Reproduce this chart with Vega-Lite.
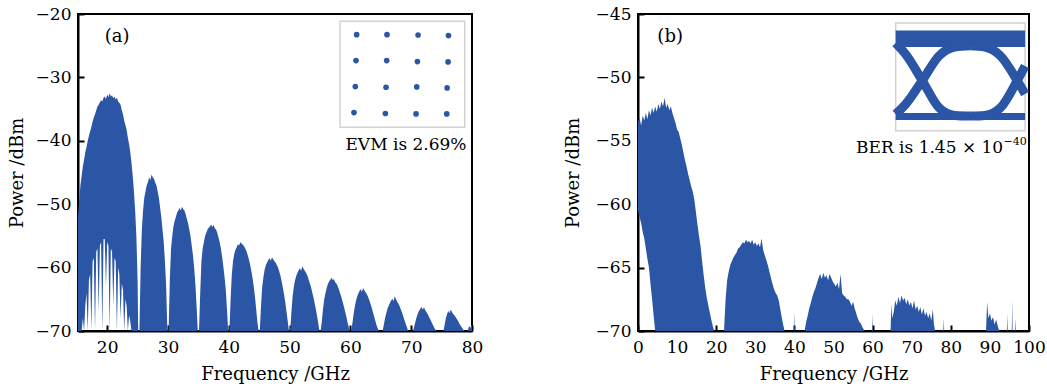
{
  "$schema": "https://vega.github.io/schema/vega-lite/v6.json",
  "background": "white",
  "padding": {"left": 7, "top": 4, "right": 0, "bottom": 0},
  "spacing": 79,
  "config": {
    "font": "DejaVu Serif",
    "view": {"stroke": "black", "strokeWidth": 2},
    "axis": {
      "grid": false,
      "domainColor": "black",
      "domainWidth": 2,
      "tickColor": "black",
      "tickWidth": 2,
      "tickSize": -6,
      "labelFont": "DejaVu Serif",
      "labelFontSize": 17,
      "labelColor": "black",
      "labelFlush": false,
      "labelBound": false,
      "titleFont": "DejaVu Serif",
      "titleFontSize": 18,
      "titleFontWeight": "normal",
      "titleColor": "black"
    },
    "axisX": {"labelPadding": 14, "titlePadding": 10},
    "axisY": {"labelPadding": 13, "titlePadding": 9}
  },
  "datasets": {
    "specA": [
      {"f":15.2,"p":-52,"p2":-70},{"f":15.4,"p":-49.5,"p2":-70},{"f":15.6,"p":-47,"p2":-70},{"f":15.8,"p":-45.5,"p2":-70},
      {"f":16.0,"p":-44,"p2":-68},{"f":16.2,"p":-43,"p2":-70},{"f":16.4,"p":-41.8,"p2":-66},{"f":16.6,"p":-41,"p2":-64},
      {"f":16.8,"p":-40,"p2":-70},{"f":17.0,"p":-39.2,"p2":-62},{"f":17.2,"p":-38.5,"p2":-61},{"f":17.4,"p":-37.8,"p2":-70},
      {"f":17.6,"p":-37,"p2":-59},{"f":17.8,"p":-36.3,"p2":-58.5},{"f":18.0,"p":-35.8,"p2":-70},{"f":18.2,"p":-35.2,"p2":-57.5},
      {"f":18.4,"p":-34.6,"p2":-57},{"f":18.6,"p":-34.3,"p2":-67},{"f":18.8,"p":-33.9,"p2":-56.5},{"f":19.0,"p":-33.6,"p2":-56},
      {"f":19.2,"p":-33.8,"p2":-70},{"f":19.4,"p":-33.2,"p2":-55.5},{"f":19.6,"p":-33.0,"p2":-55.5},{"f":19.8,"p":-33.4,"p2":-63},
      {"f":20.0,"p":-32.7,"p2":-56},{"f":20.2,"p":-33.1,"p2":-56.5},{"f":20.4,"p":-32.5,"p2":-70},{"f":20.6,"p":-33.0,"p2":-57},
      {"f":20.8,"p":-32.8,"p2":-57.5},{"f":21.0,"p":-33.3,"p2":-66},{"f":21.2,"p":-33.0,"p2":-58.5},{"f":21.4,"p":-33.5,"p2":-59},
      {"f":21.6,"p":-33.2,"p2":-70},{"f":21.8,"p":-33.8,"p2":-60},{"f":22.0,"p":-34.0,"p2":-61},{"f":22.2,"p":-34.3,"p2":-68},
      {"f":22.4,"p":-35.2,"p2":-62.5},{"f":22.6,"p":-35.8,"p2":-63.5},{"f":22.8,"p":-36.8,"p2":-70},{"f":23.0,"p":-37.5,"p2":-65},
      {"f":23.2,"p":-38.3,"p2":-66},{"f":23.4,"p":-39.5,"p2":-70},{"f":23.6,"p":-40.5,"p2":-67.5},{"f":23.8,"p":-41.8,"p2":-68.5},
      {"f":24.0,"p":-43.5,"p2":-70},{"f":24.2,"p":-45.5,"p2":-70},{"f":24.4,"p":-48,"p2":-70},{"f":24.6,"p":-51,"p2":-70},
      {"f":24.8,"p":-55,"p2":-70},{"f":25.0,"p":-62,"p2":-70},{"f":25.1,"p":-70,"p2":-70},
      {"f":25.3,"p":-70,"p2":-70},{"f":25.5,"p":-60,"p2":-70},{"f":25.7,"p":-54,"p2":-70},{"f":25.9,"p":-51,"p2":-70},
      {"f":26.1,"p":-49,"p2":-70},{"f":26.3,"p":-48,"p2":-70},{"f":26.5,"p":-47,"p2":-70},{"f":26.7,"p":-46.5,"p2":-70},
      {"f":26.9,"p":-45.8,"p2":-70},{"f":27.1,"p":-46.2,"p2":-70},{"f":27.3,"p":-45.3,"p2":-70},{"f":27.5,"p":-45.8,"p2":-70},
      {"f":27.7,"p":-46,"p2":-70},{"f":27.9,"p":-46.6,"p2":-70},{"f":28.1,"p":-47,"p2":-70},{"f":28.3,"p":-48,"p2":-70},
      {"f":28.5,"p":-49,"p2":-70},{"f":28.7,"p":-50.5,"p2":-70},{"f":28.9,"p":-52,"p2":-70},{"f":29.1,"p":-54,"p2":-70},
      {"f":29.3,"p":-56,"p2":-70},{"f":29.5,"p":-59,"p2":-70},{"f":29.7,"p":-63,"p2":-70},{"f":29.9,"p":-70,"p2":-70},
      {"f":30.1,"p":-70,"p2":-70},{"f":30.3,"p":-62,"p2":-70},{"f":30.5,"p":-57,"p2":-70},{"f":30.7,"p":-55,"p2":-70},
      {"f":30.9,"p":-53.5,"p2":-70},{"f":31.1,"p":-52.6,"p2":-70},{"f":31.3,"p":-52,"p2":-70},{"f":31.5,"p":-51.3,"p2":-70},
      {"f":31.7,"p":-51,"p2":-70},{"f":31.9,"p":-50.6,"p2":-70},{"f":32.1,"p":-51,"p2":-70},{"f":32.3,"p":-50.4,"p2":-70},
      {"f":32.5,"p":-50.8,"p2":-70},{"f":32.7,"p":-51,"p2":-70},{"f":32.9,"p":-51.6,"p2":-70},{"f":33.1,"p":-52.3,"p2":-70},
      {"f":33.3,"p":-53,"p2":-70},{"f":33.5,"p":-54,"p2":-70},{"f":33.7,"p":-55,"p2":-70},{"f":33.9,"p":-56.5,"p2":-70},
      {"f":34.1,"p":-58,"p2":-70},{"f":34.3,"p":-60,"p2":-70},{"f":34.5,"p":-62.5,"p2":-70},{"f":34.7,"p":-66,"p2":-70},
      {"f":34.9,"p":-70,"p2":-70},
      {"f":35.1,"p":-70,"p2":-70},{"f":35.3,"p":-64,"p2":-70},{"f":35.5,"p":-59,"p2":-70},{"f":35.7,"p":-57,"p2":-70},
      {"f":35.9,"p":-56,"p2":-70},{"f":36.1,"p":-55,"p2":-70},{"f":36.3,"p":-54.5,"p2":-70},{"f":36.5,"p":-54,"p2":-70},
      {"f":36.7,"p":-53.7,"p2":-70},{"f":36.9,"p":-53.5,"p2":-70},{"f":37.1,"p":-53.2,"p2":-70},{"f":37.3,"p":-53.6,"p2":-70},
      {"f":37.5,"p":-53.3,"p2":-70},{"f":37.7,"p":-53.8,"p2":-70},{"f":37.9,"p":-54,"p2":-70},{"f":38.1,"p":-54.5,"p2":-70},
      {"f":38.3,"p":-55.2,"p2":-70},{"f":38.5,"p":-56,"p2":-70},{"f":38.7,"p":-57,"p2":-70},{"f":38.9,"p":-58.3,"p2":-70},
      {"f":39.1,"p":-59.8,"p2":-70},{"f":39.3,"p":-61.5,"p2":-70},{"f":39.5,"p":-63.5,"p2":-70},{"f":39.7,"p":-66.5,"p2":-70},
      {"f":39.9,"p":-70,"p2":-70},
      {"f":40.1,"p":-70,"p2":-70},{"f":40.3,"p":-65,"p2":-70},{"f":40.5,"p":-61,"p2":-70},{"f":40.7,"p":-59,"p2":-70},
      {"f":40.9,"p":-57.8,"p2":-70},{"f":41.1,"p":-57.2,"p2":-70},{"f":41.3,"p":-56.8,"p2":-70},{"f":41.5,"p":-56.3,"p2":-70},
      {"f":41.7,"p":-56.5,"p2":-70},{"f":41.9,"p":-56,"p2":-70},{"f":42.1,"p":-56.2,"p2":-70},{"f":42.3,"p":-56.4,"p2":-70},
      {"f":42.5,"p":-56.6,"p2":-70},{"f":42.7,"p":-57,"p2":-70},{"f":42.9,"p":-57.4,"p2":-70},{"f":43.1,"p":-58,"p2":-70},
      {"f":43.3,"p":-58.7,"p2":-70},{"f":43.5,"p":-59.5,"p2":-70},{"f":43.7,"p":-60.5,"p2":-70},{"f":43.9,"p":-61.6,"p2":-70},
      {"f":44.1,"p":-63,"p2":-70},{"f":44.3,"p":-64.5,"p2":-70},{"f":44.5,"p":-66.5,"p2":-70},{"f":44.7,"p":-68.5,"p2":-70},
      {"f":44.9,"p":-70,"p2":-70},
      {"f":45.1,"p":-70,"p2":-70},{"f":45.3,"p":-66,"p2":-70},{"f":45.5,"p":-63,"p2":-70},{"f":45.7,"p":-61.5,"p2":-70},
      {"f":45.9,"p":-60.3,"p2":-70},{"f":46.1,"p":-59.6,"p2":-70},{"f":46.3,"p":-59.2,"p2":-70},{"f":46.5,"p":-58.8,"p2":-70},
      {"f":46.7,"p":-58.5,"p2":-70},{"f":46.9,"p":-58.9,"p2":-70},{"f":47.1,"p":-58.4,"p2":-70},{"f":47.3,"p":-58.7,"p2":-70},
      {"f":47.5,"p":-59,"p2":-70},{"f":47.7,"p":-59.2,"p2":-70},{"f":47.9,"p":-59.6,"p2":-70},{"f":48.1,"p":-60,"p2":-70},
      {"f":48.3,"p":-60.6,"p2":-70},{"f":48.5,"p":-61.3,"p2":-70},{"f":48.7,"p":-62.2,"p2":-70},{"f":48.9,"p":-63.2,"p2":-70},
      {"f":49.1,"p":-64.3,"p2":-70},{"f":49.3,"p":-65.5,"p2":-70},{"f":49.5,"p":-67,"p2":-70},{"f":49.7,"p":-68.5,"p2":-70},
      {"f":49.9,"p":-70,"p2":-70},
      {"f":50.1,"p":-70,"p2":-70},{"f":50.3,"p":-67,"p2":-70},{"f":50.5,"p":-64.5,"p2":-70},{"f":50.7,"p":-63,"p2":-70},
      {"f":50.9,"p":-62,"p2":-70},{"f":51.1,"p":-61.3,"p2":-70},{"f":51.3,"p":-60.8,"p2":-70},{"f":51.5,"p":-60.4,"p2":-70},
      {"f":51.7,"p":-60.1,"p2":-70},{"f":51.9,"p":-60.5,"p2":-70},{"f":52.1,"p":-59.8,"p2":-70},{"f":52.3,"p":-60.2,"p2":-70},
      {"f":52.5,"p":-60.5,"p2":-70},{"f":52.7,"p":-60.8,"p2":-70},{"f":52.9,"p":-61.2,"p2":-70},{"f":53.1,"p":-61.8,"p2":-70},
      {"f":53.3,"p":-62.4,"p2":-70},{"f":53.5,"p":-63,"p2":-70},{"f":53.7,"p":-63.8,"p2":-70},{"f":53.9,"p":-64.6,"p2":-70},
      {"f":54.1,"p":-65.5,"p2":-70},{"f":54.3,"p":-66.5,"p2":-70},{"f":54.5,"p":-67.5,"p2":-70},{"f":54.7,"p":-68.7,"p2":-70},
      {"f":54.9,"p":-70,"p2":-70},
      {"f":55.1,"p":-70,"p2":-70},{"f":55.3,"p":-68.5,"p2":-70},{"f":55.5,"p":-66.5,"p2":-70},{"f":55.7,"p":-65,"p2":-70},
      {"f":55.9,"p":-64,"p2":-70},{"f":56.1,"p":-63.2,"p2":-70},{"f":56.3,"p":-62.6,"p2":-70},{"f":56.5,"p":-62.2,"p2":-70},
      {"f":56.7,"p":-61.9,"p2":-70},{"f":56.9,"p":-61.6,"p2":-70},{"f":57.1,"p":-62,"p2":-70},{"f":57.3,"p":-61.8,"p2":-70},
      {"f":57.5,"p":-62.3,"p2":-70},{"f":57.7,"p":-62.5,"p2":-70},{"f":57.9,"p":-62.9,"p2":-70},{"f":58.1,"p":-63.4,"p2":-70},
      {"f":58.3,"p":-64,"p2":-70},{"f":58.5,"p":-64.6,"p2":-70},{"f":58.7,"p":-65.3,"p2":-70},{"f":58.9,"p":-66,"p2":-70},
      {"f":59.1,"p":-66.8,"p2":-70},{"f":59.3,"p":-67.6,"p2":-70},{"f":59.5,"p":-68.5,"p2":-70},{"f":59.7,"p":-69.3,"p2":-70},
      {"f":59.9,"p":-70,"p2":-70},
      {"f":60.1,"p":-70,"p2":-70},{"f":60.3,"p":-69,"p2":-70},{"f":60.5,"p":-67.5,"p2":-70},{"f":60.7,"p":-66.3,"p2":-70},
      {"f":60.9,"p":-65.3,"p2":-70},{"f":61.1,"p":-64.6,"p2":-70},{"f":61.3,"p":-64.1,"p2":-70},{"f":61.5,"p":-63.7,"p2":-70},
      {"f":61.7,"p":-63.4,"p2":-70},{"f":61.9,"p":-63.8,"p2":-70},{"f":62.1,"p":-63.2,"p2":-70},{"f":62.3,"p":-63.6,"p2":-70},
      {"f":62.5,"p":-63.9,"p2":-70},{"f":62.7,"p":-64.2,"p2":-70},{"f":62.9,"p":-64.6,"p2":-70},{"f":63.1,"p":-65.1,"p2":-70},
      {"f":63.3,"p":-65.7,"p2":-70},{"f":63.5,"p":-66.3,"p2":-70},{"f":63.7,"p":-67,"p2":-70},{"f":63.9,"p":-67.7,"p2":-70},
      {"f":64.1,"p":-68.4,"p2":-70},{"f":64.3,"p":-69.1,"p2":-70},{"f":64.5,"p":-69.6,"p2":-70},{"f":64.7,"p":-70,"p2":-70},
      {"f":65.3,"p":-70,"p2":-70},{"f":65.5,"p":-69,"p2":-70},{"f":65.7,"p":-68,"p2":-70},{"f":65.9,"p":-67.2,"p2":-70},
      {"f":66.1,"p":-66.5,"p2":-70},{"f":66.3,"p":-66,"p2":-70},{"f":66.5,"p":-65.6,"p2":-70},{"f":66.7,"p":-65.2,"p2":-70},
      {"f":66.9,"p":-64.9,"p2":-70},{"f":67.1,"p":-65.3,"p2":-70},{"f":67.3,"p":-64.5,"p2":-70},{"f":67.5,"p":-65,"p2":-70},
      {"f":67.7,"p":-65.4,"p2":-70},{"f":67.9,"p":-65.7,"p2":-70},{"f":68.1,"p":-66.1,"p2":-70},{"f":68.3,"p":-66.6,"p2":-70},
      {"f":68.5,"p":-67.1,"p2":-70},{"f":68.7,"p":-67.7,"p2":-70},{"f":68.9,"p":-68.3,"p2":-70},{"f":69.1,"p":-68.9,"p2":-70},
      {"f":69.3,"p":-69.4,"p2":-70},{"f":69.5,"p":-70,"p2":-70},
      {"f":70.3,"p":-70,"p2":-70},{"f":70.5,"p":-69.3,"p2":-70},{"f":70.7,"p":-68.5,"p2":-70},{"f":70.9,"p":-67.8,"p2":-70},
      {"f":71.1,"p":-67.2,"p2":-70},{"f":71.3,"p":-66.8,"p2":-70},{"f":71.5,"p":-66.5,"p2":-70},{"f":71.7,"p":-66.2,"p2":-70},
      {"f":71.9,"p":-66.6,"p2":-70},{"f":72.1,"p":-66.3,"p2":-70},{"f":72.3,"p":-66.7,"p2":-70},{"f":72.5,"p":-67,"p2":-70},
      {"f":72.7,"p":-67.3,"p2":-70},{"f":72.9,"p":-67.7,"p2":-70},{"f":73.1,"p":-68.1,"p2":-70},{"f":73.3,"p":-68.5,"p2":-70},
      {"f":73.5,"p":-68.9,"p2":-70},{"f":73.7,"p":-69.3,"p2":-70},{"f":73.9,"p":-69.7,"p2":-70},{"f":74.1,"p":-70,"p2":-70},
      {"f":75.3,"p":-70,"p2":-70},{"f":75.5,"p":-69,"p2":-70},{"f":75.7,"p":-68,"p2":-70},{"f":75.9,"p":-67.3,"p2":-70},
      {"f":76.1,"p":-66.8,"p2":-70},{"f":76.3,"p":-67.2,"p2":-70},{"f":76.5,"p":-66.6,"p2":-70},{"f":76.7,"p":-67,"p2":-70},
      {"f":76.9,"p":-67.3,"p2":-70},{"f":77.1,"p":-67.5,"p2":-70},{"f":77.3,"p":-67.8,"p2":-70},{"f":77.5,"p":-68.1,"p2":-70},
      {"f":77.7,"p":-68.4,"p2":-70},{"f":77.9,"p":-68.8,"p2":-70},{"f":78.1,"p":-69.1,"p2":-70},{"f":78.3,"p":-69.4,"p2":-70},
      {"f":78.5,"p":-69.7,"p2":-70},{"f":78.7,"p":-70,"p2":-70},{"f":79.3,"p":-70,"p2":-70},{"f":79.5,"p":-69.2,"p2":-70},
      {"f":79.7,"p":-69.5,"p2":-70},{"f":80.0,"p":-69,"p2":-70}
    ],
    "specB": [
      {"f":0.0,"p":-53.5,"p2":-60.5},{"f":0.4,"p":-53.2,"p2":-61},{"f":0.8,"p":-53.8,"p2":-61.5},{"f":1.2,"p":-53,"p2":-62.2},
      {"f":1.6,"p":-53.4,"p2":-62.7},{"f":2.0,"p":-52.8,"p2":-63.5},{"f":2.4,"p":-53.3,"p2":-64.3},{"f":2.8,"p":-52.6,"p2":-65},
      {"f":3.2,"p":-53,"p2":-66.3},{"f":3.6,"p":-52.4,"p2":-67.5},{"f":4.0,"p":-52.8,"p2":-68.8},{"f":4.4,"p":-52.3,"p2":-70},
      {"f":4.8,"p":-52.7,"p2":-70},{"f":5.2,"p":-52.1,"p2":-70},{"f":5.6,"p":-52.5,"p2":-70},{"f":6.0,"p":-51.9,"p2":-70},
      {"f":6.4,"p":-52.3,"p2":-70},{"f":6.8,"p":-51.6,"p2":-70},{"f":7.2,"p":-52.4,"p2":-70},{"f":7.6,"p":-52.1,"p2":-70},
      {"f":8.0,"p":-52.6,"p2":-70},{"f":8.4,"p":-52.3,"p2":-70},{"f":8.8,"p":-52.8,"p2":-70},{"f":9.2,"p":-53.2,"p2":-70},
      {"f":9.6,"p":-53.6,"p2":-70},{"f":10.0,"p":-54.1,"p2":-70},{"f":10.4,"p":-54.3,"p2":-70},{"f":10.8,"p":-54.8,"p2":-70},
      {"f":11.2,"p":-55.3,"p2":-70},{"f":11.6,"p":-55.9,"p2":-70},{"f":12.0,"p":-56.5,"p2":-70},{"f":12.4,"p":-57,"p2":-70},
      {"f":12.8,"p":-57.6,"p2":-70},{"f":13.2,"p":-58.1,"p2":-70},{"f":13.6,"p":-58.6,"p2":-70},{"f":14.0,"p":-59,"p2":-70},
      {"f":14.4,"p":-59.6,"p2":-70},{"f":14.8,"p":-60.6,"p2":-70},{"f":15.2,"p":-61.6,"p2":-70},{"f":15.6,"p":-62.5,"p2":-70},
      {"f":16.0,"p":-63.3,"p2":-70},{"f":16.4,"p":-64.5,"p2":-70},{"f":16.8,"p":-65.6,"p2":-70},{"f":17.2,"p":-66.6,"p2":-70},
      {"f":17.6,"p":-67.4,"p2":-70},{"f":18.0,"p":-68,"p2":-70},{"f":18.4,"p":-68.6,"p2":-70},{"f":18.8,"p":-69.2,"p2":-70},
      {"f":19.2,"p":-69.7,"p2":-70},{"f":19.5,"p":-70,"p2":-70},
      {"f":22.0,"p":-70,"p2":-70},{"f":22.4,"p":-67.5,"p2":-70},{"f":22.8,"p":-66,"p2":-70},{"f":23.2,"p":-65.3,"p2":-70},
      {"f":23.6,"p":-64.8,"p2":-70},{"f":24.0,"p":-64.5,"p2":-70},{"f":24.4,"p":-64.2,"p2":-70},{"f":24.8,"p":-64,"p2":-70},
      {"f":25.2,"p":-63.8,"p2":-70},{"f":25.6,"p":-63.5,"p2":-70},{"f":26.0,"p":-63.4,"p2":-70},{"f":26.4,"p":-63.2,"p2":-70},
      {"f":26.8,"p":-63,"p2":-70},{"f":27.2,"p":-63.1,"p2":-70},{"f":27.6,"p":-62.8,"p2":-70},{"f":28.0,"p":-63,"p2":-70},
      {"f":28.4,"p":-62.9,"p2":-70},{"f":28.8,"p":-63.1,"p2":-70},{"f":29.2,"p":-62.8,"p2":-70},{"f":29.6,"p":-63.2,"p2":-70},
      {"f":30.0,"p":-63,"p2":-70},{"f":30.4,"p":-63.3,"p2":-70},{"f":30.8,"p":-63.1,"p2":-70},{"f":31.2,"p":-63.4,"p2":-70},
      {"f":31.6,"p":-62.7,"p2":-70},{"f":32.0,"p":-63.6,"p2":-70},{"f":32.4,"p":-64,"p2":-70},{"f":32.8,"p":-64.4,"p2":-70},
      {"f":33.2,"p":-64.8,"p2":-70},{"f":33.6,"p":-65.3,"p2":-70},{"f":34.0,"p":-65.8,"p2":-70},{"f":34.4,"p":-66.3,"p2":-70},
      {"f":34.8,"p":-66.7,"p2":-70},{"f":35.2,"p":-67,"p2":-70},{"f":35.6,"p":-67.2,"p2":-70},{"f":36.0,"p":-67.6,"p2":-70},
      {"f":36.4,"p":-68.3,"p2":-70},{"f":36.8,"p":-69,"p2":-70},{"f":37.2,"p":-69.6,"p2":-70},{"f":37.5,"p":-70,"p2":-70},
      {"f":39.9,"p":-70,"p2":-70},{"f":40.0,"p":-68.5,"p2":-70},{"f":40.1,"p":-70,"p2":-70},
      {"f":42.6,"p":-70,"p2":-70},{"f":43.0,"p":-69.3,"p2":-70},{"f":43.4,"p":-68.8,"p2":-70},{"f":43.8,"p":-68.2,"p2":-70},
      {"f":44.2,"p":-67.8,"p2":-70},{"f":44.6,"p":-67.3,"p2":-70},{"f":45.0,"p":-66.9,"p2":-70},{"f":45.4,"p":-66.6,"p2":-70},
      {"f":45.8,"p":-66.2,"p2":-70},{"f":46.2,"p":-65.8,"p2":-70},{"f":46.6,"p":-65.5,"p2":-70},{"f":47.0,"p":-65.9,"p2":-70},
      {"f":47.4,"p":-65.4,"p2":-70},{"f":47.8,"p":-65.8,"p2":-70},{"f":48.2,"p":-65.6,"p2":-70},{"f":48.6,"p":-66,"p2":-70},
      {"f":49.0,"p":-65.5,"p2":-70},{"f":49.4,"p":-65.8,"p2":-70},{"f":49.8,"p":-66.1,"p2":-70},{"f":50.2,"p":-66.3,"p2":-70},
      {"f":50.6,"p":-66.5,"p2":-70},{"f":51.0,"p":-66.2,"p2":-70},{"f":51.4,"p":-66.7,"p2":-70},{"f":51.8,"p":-65.5,"p2":-70},
      {"f":52.2,"p":-67,"p2":-70},{"f":52.6,"p":-67.2,"p2":-70},{"f":53.0,"p":-67.3,"p2":-70},{"f":53.4,"p":-67.5,"p2":-70},
      {"f":53.8,"p":-67.5,"p2":-70},{"f":54.2,"p":-67.7,"p2":-70},{"f":54.6,"p":-68,"p2":-70},{"f":55.0,"p":-67.7,"p2":-70},
      {"f":55.4,"p":-68.2,"p2":-70},{"f":55.8,"p":-68.6,"p2":-70},{"f":56.2,"p":-69,"p2":-70},{"f":56.6,"p":-69.3,"p2":-70},
      {"f":57.0,"p":-69.4,"p2":-70},{"f":57.4,"p":-69.7,"p2":-70},{"f":58.0,"p":-70,"p2":-70},
      {"f":59.9,"p":-70,"p2":-70},{"f":60.0,"p":-68.6,"p2":-70},{"f":60.1,"p":-70,"p2":-70},
      {"f":64.6,"p":-70,"p2":-70},{"f":64.8,"p":-67.8,"p2":-70},{"f":65.0,"p":-69,"p2":-70},{"f":65.4,"p":-68.5,"p2":-70},
      {"f":65.8,"p":-67.6,"p2":-70},{"f":66.2,"p":-68,"p2":-70},{"f":66.6,"p":-67.3,"p2":-70},{"f":67.0,"p":-67.8,"p2":-70},
      {"f":67.4,"p":-67.2,"p2":-70},{"f":67.8,"p":-67.6,"p2":-70},{"f":68.2,"p":-67.4,"p2":-70},{"f":68.6,"p":-67.9,"p2":-70},
      {"f":69.0,"p":-67.5,"p2":-70},{"f":69.4,"p":-68,"p2":-70},{"f":69.8,"p":-67.7,"p2":-70},{"f":70.2,"p":-68.2,"p2":-70},
      {"f":70.6,"p":-67.6,"p2":-70},{"f":71.0,"p":-68.3,"p2":-70},{"f":71.4,"p":-68,"p2":-70},{"f":71.8,"p":-68.5,"p2":-70},
      {"f":72.2,"p":-68.1,"p2":-70},{"f":72.6,"p":-68.7,"p2":-70},{"f":73.0,"p":-68.2,"p2":-70},{"f":73.4,"p":-68.8,"p2":-70},
      {"f":73.8,"p":-68.5,"p2":-70},{"f":74.2,"p":-69,"p2":-70},{"f":74.6,"p":-68.6,"p2":-70},{"f":75.0,"p":-69.2,"p2":-70},
      {"f":75.4,"p":-68.3,"p2":-70},{"f":75.7,"p":-69.5,"p2":-70},{"f":76.0,"p":-70,"p2":-70},
      {"f":78.1,"p":-70,"p2":-70},{"f":78.2,"p":-69,"p2":-70},{"f":78.3,"p":-70,"p2":-70},
      {"f":89.0,"p":-70,"p2":-70},{"f":89.3,"p":-67.7,"p2":-70},{"f":89.6,"p":-69,"p2":-70},{"f":90.0,"p":-68.6,"p2":-70},
      {"f":90.4,"p":-69.2,"p2":-70},{"f":90.8,"p":-68.9,"p2":-70},{"f":91.2,"p":-69.5,"p2":-70},{"f":91.6,"p":-69.1,"p2":-70},
      {"f":92.0,"p":-69.6,"p2":-70},{"f":92.4,"p":-70,"p2":-70},
      {"f":94.4,"p":-70,"p2":-70},{"f":94.5,"p":-68.6,"p2":-70},{"f":94.6,"p":-70,"p2":-70},
      {"f":95.6,"p":-70,"p2":-70},{"f":95.7,"p":-67.5,"p2":-70},{"f":95.8,"p":-70,"p2":-70},
      {"f":96.4,"p":-70,"p2":-70},{"f":96.5,"p":-69,"p2":-70},{"f":96.6,"p":-70,"p2":-70},{"f":100.0,"p":-70,"p2":-70}
    ],
    "constA": [
      {"f":61.03,"p":-23.26},{"f":66.02,"p":-23.26},{"f":71.13,"p":-23.31},{"f":76.13,"p":-23.41},
      {"f":60.92,"p":-27.35},{"f":65.97,"p":-27.35},{"f":71.02,"p":-27.51},{"f":76.07,"p":-27.56},
      {"f":60.81,"p":-31.45},{"f":65.86,"p":-31.55},{"f":70.91,"p":-31.50},{"f":75.91,"p":-31.66},
      {"f":60.59,"p":-35.55},{"f":65.75,"p":-35.70},{"f":70.80,"p":-35.76},{"f":75.85,"p":-35.76}
    ],
    "eyeLines": [
      {"traj":"f1","f":65.9,"p":-47.3},{"traj":"f1","f":68.5,"p":-48.2},{"traj":"f1","f":72.7,"p":-50.25},{"traj":"f1","f":77,"p":-52.4},{"traj":"f1","f":81,"p":-53.0},{"traj":"f1","f":85,"p":-53.05},
      {"traj":"r1","f":65.9,"p":-52.9},{"traj":"r1","f":68.5,"p":-52.1},{"traj":"r1","f":72.7,"p":-50.25},{"traj":"r1","f":77,"p":-48.3},{"traj":"r1","f":81,"p":-47.6},{"traj":"r1","f":85,"p":-47.5},
      {"traj":"r2","f":85,"p":-53.05},{"traj":"r2","f":88.7,"p":-53.0},{"traj":"r2","f":92.7,"p":-52.4},{"traj":"r2","f":97,"p":-50.25},{"traj":"r2","f":99,"p":-49.1},
      {"traj":"f2","f":85,"p":-47.5},{"traj":"f2","f":88.7,"p":-47.6},{"traj":"f2","f":92.7,"p":-48.3},{"traj":"f2","f":97,"p":-50.25},{"traj":"f2","f":99,"p":-51.3}
    ],
    "eyeBands": [
      {"band":"top","f":65.9,"p":-46.3,"p2":-47.6},{"band":"top","f":99,"p":-46.3,"p2":-47.6},
      {"band":"bottom","f":65.9,"p":-52.8,"p2":-53.35},{"band":"bottom","f":99,"p":-52.8,"p2":-53.35}
    ]
  },
  "hconcat": [
    {
      "width": 394,
      "height": 317,
      "encoding": {
        "x": {"field": "f", "type": "quantitative", "scale": {"domain": [15.2, 80], "nice": false, "zero": false}, "axis": {"values": [20, 30, 40, 50, 60, 70, 80], "title": "Frequency /GHz"}},
        "y": {"field": "p", "type": "quantitative", "scale": {"domain": [-70, -20], "nice": false, "zero": false}, "axis": {"values": [-70, -60, -50, -40, -30, -20], "title": "Power /dBm"}}
      },
      "layer": [
        {"data": {"name": "specA"}, "mark": {"type": "area", "color": "#2b56a6", "clip": true, "interpolate": "linear"}, "encoding": {"y2": {"field": "p2"}}},
        {"data": {"values": [{"f": 58.3, "f2": 78.8, "p": -21.15, "p2": -37.85}]}, "mark": {"type": "rect", "filled": false, "stroke": "#d2d2d2", "strokeWidth": 1.5}, "encoding": {"x2": {"field": "f2"}, "y2": {"field": "p2"}}},
        {"data": {"name": "constA"}, "mark": {"type": "circle", "color": "#2b56a6", "size": 32, "opacity": 1}},
        {"data": {"values": [{"f": 19.6, "p": -24.4, "label": "(a)"}]}, "mark": {"type": "text", "align": "left", "baseline": "alphabetic", "fontSize": 18, "color": "black"}, "encoding": {"text": {"field": "label"}}},
        {"data": {"values": [{"f": 79.1, "p": -41.5, "label": "EVM is 2.69%"}]}, "mark": {"type": "text", "align": "right", "baseline": "alphabetic", "fontSize": 17, "color": "black"}, "encoding": {"text": {"field": "label"}}}
      ]
    },
    {
      "width": 391,
      "height": 317,
      "encoding": {
        "x": {"field": "f", "type": "quantitative", "scale": {"domain": [0, 100], "nice": false, "zero": false}, "axis": {"values": [0, 10, 20, 30, 40, 50, 60, 70, 80, 90, 100], "title": "Frequency /GHz"}},
        "y": {"field": "p", "type": "quantitative", "scale": {"domain": [-70, -45], "nice": false, "zero": false}, "axis": {"values": [-70, -65, -60, -55, -50, -45], "title": "Power /dBm", "titlePadding": 13}}
      },
      "layer": [
        {"data": {"name": "specB"}, "mark": {"type": "area", "color": "#2b56a6", "clip": true, "interpolate": "linear"}, "encoding": {"y2": {"field": "p2"}}},
        {"data": {"values": [{"f": 65.9, "f2": 99.0, "p": -45.7, "p2": -54.2}]}, "mark": {"type": "rect", "filled": false, "stroke": "#d2d2d2", "strokeWidth": 1.5}, "encoding": {"x2": {"field": "f2"}, "y2": {"field": "p2"}}},
        {"data": {"name": "eyeBands"}, "mark": {"type": "area", "color": "#2b56a6", "opacity": 1}, "encoding": {"y2": {"field": "p2"}, "detail": {"field": "band"}}},
        {"data": {"name": "eyeLines"}, "mark": {"type": "line", "color": "#2b56a6", "strokeWidth": 9, "strokeCap": "butt", "interpolate": "monotone"}, "encoding": {"detail": {"field": "traj"}}},
        {"data": {"values": [{"f": 4.95, "p": -47.2, "label": "(b)"}]}, "mark": {"type": "text", "align": "left", "baseline": "alphabetic", "fontSize": 18, "color": "black"}, "encoding": {"text": {"field": "label"}}},
        {"data": {"values": [{"f": 93.4, "p": -55.95, "label": "BER is 1.45 × 10"}]}, "mark": {"type": "text", "align": "right", "baseline": "alphabetic", "fontSize": 17, "color": "black"}, "encoding": {"text": {"field": "label"}}},
        {"data": {"values": [{"f": 93.5, "p": -55.3, "label": "−40"}]}, "mark": {"type": "text", "align": "left", "baseline": "alphabetic", "fontSize": 11, "color": "black"}, "encoding": {"text": {"field": "label"}}}
      ]
    }
  ]
}
